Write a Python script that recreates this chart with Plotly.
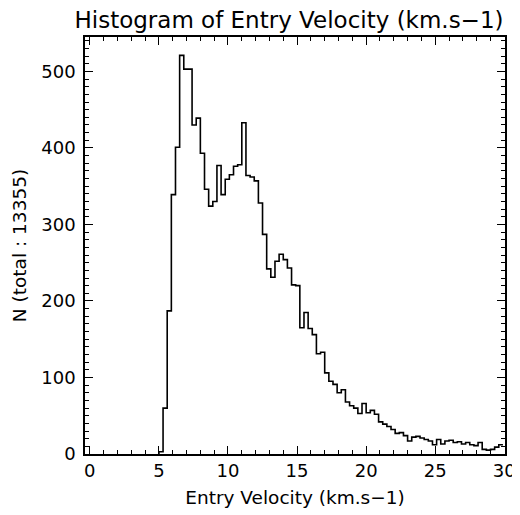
import plotly.graph_objects as go

# Histogram of entry velocity (km/s), bin width 0.3 starting at 5.0
bin_start = 5.0
bin_width = 0.3
counts = [
    3, 60, 187, 339, 401, 521, 503, 503, 430, 439,
    393, 346, 324, 330, 377, 339, 359, 365, 376, 378,
    433, 364, 362, 357, 328, 287, 242, 231, 252, 261,
    254, 243, 221, 220, 165, 185, 164, 156, 131, 133,
    106, 95, 91, 80, 84, 68, 63, 60, 53, 66,
    54, 57, 52, 42, 39, 36, 32, 27, 28, 24,
    17, 22, 23, 21, 19, 17, 12, 19, 13, 17,
    18, 15, 16, 13, 15, 12, 11, 15, 6, 5,
    6, 9, 12,
]
x_ticks = [0, 5, 10, 15, 20, 25, 30]
y_ticks = [0, 100, 200, 300, 400, 500]

edges = [round(bin_start + i * bin_width, 3) for i in range(len(counts) + 1)]
xs = [edges[0]] + edges
ys = [0] + counts + [counts[-1]]

FONT = "DejaVu Sans"
W, H = 512, 507  # page body adds an 8px margin

fig = go.Figure()
fig.add_trace(go.Scatter(
    x=xs, y=ys, mode="lines", line=dict(color="black", width=1.6, shape="hv"),
    hoverinfo="skip", showlegend=False,
))

axis_common = dict(
    showline=True, linecolor="black", linewidth=1.5, mirror="ticks",
    ticks="inside", ticklen=8, tickwidth=1.2, tickcolor="black",
    showgrid=False, zeroline=False, automargin=False,
    tickfont=dict(family=FONT, size=18, color="black"),
)

fig.update_xaxes(
    range=[-0.35, 30.05], tickvals=x_ticks, ticktext=[str(v) for v in x_ticks],
    minor=dict(ticks="inside", ticklen=4, dtick=1, tick0=0, tickcolor="black", tickwidth=1.2),
    title=dict(text="Entry Velocity (km.s\u22121)", font=dict(family=FONT, size=18.5, color="black"), standoff=11),
    **axis_common,
)
fig.update_yaxes(
    range=[0, 545], tickvals=y_ticks, ticktext=[str(v) for v in y_ticks],
    minor=dict(ticks="inside", ticklen=4, dtick=10, tick0=0, tickcolor="black", tickwidth=1.2),
    title=dict(text="N (total : 13355)", font=dict(family=FONT, size=18.5, color="black"), standoff=10),
    ticklabelstandoff=4,
    **axis_common,
)

fig.update_layout(
    width=W, height=H, autosize=False,
    margin=dict(l=77, r=15, t=29, b=61),
    paper_bgcolor="white", plot_bgcolor="white",
    title=dict(text="Histogram of Entry Velocity (km.s\u22121)",
               x=281 / W, xref="container", xanchor="center",
               y=1 - 12 / H, yref="container", yanchor="middle",
               font=dict(family=FONT, size=23, color="black")),
)

fig.write_html("out.html")
